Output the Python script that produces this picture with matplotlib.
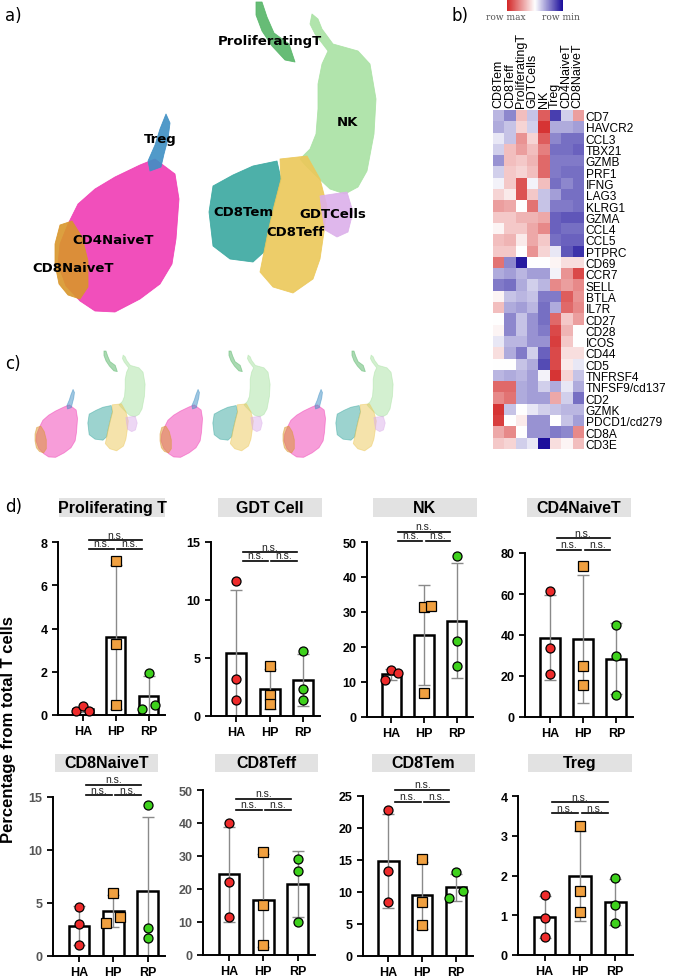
import numpy as np
import matplotlib
matplotlib.use('Agg')
import matplotlib.pyplot as plt
from matplotlib.patches import Polygon, Rectangle
from matplotlib.colors import LinearSegmentedColormap

# ---------------- data ----------------
# UMAP cluster outlines (embedding coordinates)
umap_cd4naive = [(155, 160), (175, 175), (179, 200), (176, 240), (172, 265), (160, 285), (140, 300),
                 (115, 313), (95, 312), (80, 302), (66, 287), (58, 265), (60, 245), (68, 225),
                 (78, 205), (95, 190), (115, 178), (140, 166)]
umap_cd8naive = [(60, 226), (72, 222), (82, 238), (88, 262), (88, 288), (80, 300), (68, 296),
                 (59, 285), (55, 265), (55, 245)]
umap_treg = [(166, 115), (170, 124), (168, 140), (164, 155), (161, 168), (150, 172), (148, 162),
             (155, 146), (160, 130)]
umap_prolif = [(256, 3), (262, 3), (267, 18), (274, 34), (289, 45), (295, 63), (285, 61),
               (272, 47), (262, 32), (256, 16)]
umap_nk = [(312, 15), (318, 20), (322, 30), (333, 45), (358, 52), (370, 65), (376, 100), (374, 135),
           (367, 172), (358, 188), (345, 195), (330, 190), (315, 176), (305, 166), (300, 160),
           (310, 150), (316, 135), (318, 110), (318, 85), (322, 65), (328, 52), (315, 35), (310, 25)]
umap_cd8tem = [(253, 167), (277, 162), (281, 180), (274, 207), (268, 233), (264, 253), (253, 263),
               (230, 260), (213, 247), (209, 213), (213, 187), (233, 176)]
umap_cd8teff = [(280, 160), (307, 157), (320, 180), (327, 207), (324, 233), (320, 260), (313, 280),
                (293, 294), (273, 288), (260, 273), (264, 253), (268, 233), (274, 207), (281, 180)]
umap_gdt = [(320, 197), (347, 193), (353, 213), (348, 233), (337, 238), (325, 231), (322, 213)]

umap_clusters = ['CD4NaiveT', 'CD8NaiveT', 'Treg', 'ProliferatingT', 'NK', 'CD8Tem', 'CD8Teff', 'GDTCells']
umap_outlines = [umap_cd4naive, umap_cd8naive, umap_treg, umap_prolif, umap_nk, umap_cd8tem,
                 umap_cd8teff, umap_gdt]
umap_label_pos = [(113, 240), (73, 268), (160, 140), (270, 42), (347, 122), (243, 212), (295, 233), (333, 214)]

# Heatmap
heat_cols = ['CD8Tem', 'CD8Teff', 'ProliferatingT', 'GDTCells', 'NK', 'Treg', 'CD4NaiveT', 'CD8NaiveT']
heat_genes = ['CD7', 'HAVCR2', 'CCL3', 'TBX21', 'GZMB', 'PRF1', 'IFNG', 'LAG3', 'KLRG1', 'GZMA',
              'CCL4', 'CCL5', 'PTPRC', 'CD69', 'CCR7', 'SELL', 'BTLA', 'IL7R', 'CD27', 'CD28',
              'ICOS', 'CD44', 'CD5', 'TNFRSF4', 'TNFSF9/cd137', 'CD2', 'GZMK', 'PDCD1/cd279',
              'CD8A', 'CD3E']
heat_values = [
    [-0.30, -0.50, 0.30, -0.25, 0.75, -0.80, -0.20, 0.45],
    [-0.35, -0.25, 0.20, -0.20, 0.95, -0.35, -0.35, -0.40],
    [-0.10, -0.25, 0.50, 0.20, 0.75, -0.50, -0.60, -0.60],
    [-0.20, 0.30, 0.45, 0.30, 0.60, -0.60, -0.60, -0.65],
    [-0.45, 0.30, 0.25, 0.35, 0.70, -0.55, -0.55, -0.55],
    [-0.20, 0.25, 0.20, 0.30, 0.70, -0.55, -0.60, -0.60],
    [-0.05, 0.25, 0.80, -0.05, 0.30, -0.60, -0.50, -0.60],
    [0.20, 0.10, 0.80, 0.25, -0.25, -0.40, -0.60, -0.60],
    [0.45, 0.40, 0.00, 0.65, -0.25, -0.55, -0.55, -0.60],
    [0.25, 0.25, 0.35, 0.35, 0.40, -0.65, -0.70, -0.70],
    [0.05, 0.25, 0.25, 0.40, 0.55, -0.65, -0.60, -0.60],
    [0.30, 0.35, 0.10, 0.40, 0.25, -0.60, -0.65, -0.65],
    [0.25, 0.25, 0.00, 0.50, 0.20, -0.10, -0.70, -0.85],
    [0.65, -0.50, -0.95, 0.00, 0.00, 0.05, 0.15, 0.15],
    [-0.35, -0.40, -0.30, -0.40, -0.40, -0.05, 0.50, 0.85],
    [-0.55, -0.60, -0.35, -0.20, -0.30, 0.55, 0.45, 0.55],
    [0.05, -0.25, -0.30, -0.25, -0.55, -0.55, 0.75, 0.50],
    [0.30, -0.35, -0.40, -0.30, -0.60, -0.35, 0.70, 0.55],
    [0.00, -0.50, -0.25, -0.45, -0.60, 0.70, 0.25, 0.45],
    [0.05, -0.50, -0.25, -0.45, -0.55, 0.85, 0.35, 0.00],
    [-0.10, -0.30, -0.30, -0.45, -0.45, 0.90, 0.25, 0.00],
    [0.15, -0.35, -0.55, -0.20, -0.65, 0.85, 0.15, 0.15],
    [0.00, 0.00, -0.25, -0.35, -0.75, 0.85, 0.10, -0.10],
    [-0.30, -0.35, -0.30, -0.40, -0.05, 0.95, 0.20, -0.25],
    [0.70, 0.70, -0.35, -0.40, -0.20, -0.35, -0.10, -0.35],
    [0.55, 0.65, -0.35, -0.40, -0.40, 0.40, -0.20, -0.60],
    [0.95, -0.25, 0.00, -0.10, -0.20, -0.25, -0.30, -0.30],
    [0.90, 0.00, 0.10, -0.45, -0.45, 0.00, -0.25, -0.40],
    [0.40, 0.55, 0.00, -0.45, -0.45, -0.55, -0.50, 0.55],
    [0.25, 0.20, -0.20, -0.10, -1.00, 0.15, 0.05, 0.30],
]

# Bar charts: three samples per group (HA, HP, RP)
groups = ['HA', 'HP', 'RP']
panel_titles = ['Proliferating T', 'GDT Cell', 'NK', 'CD4NaiveT', 'CD8NaiveT', 'CD8Teff', 'CD8Tem', 'Treg']
prolif_vals = [[0.2, 0.4, 0.2], [7.1, 3.3, 0.45], [1.95, 0.3, 0.45]]
gdt_vals = [[11.6, 3.2, 1.4], [4.3, 1.8, 1.0], [5.6, 2.3, 1.4]]
nk_vals = [[10.5, 13.3, 12.7], [31.3, 31.8, 6.8], [46.0, 21.8, 14.7]]
cd4naive_vals = [[61.5, 33.5, 21.0], [73.8, 25.0, 15.6], [45.0, 30.0, 10.5]]
cd8naive_vals = [[4.6, 3.0, 1.0], [5.9, 3.1, 3.7], [14.2, 2.6, 1.7]]
cd8teff_vals = [[40.0, 22.0, 11.5], [31.3, 15.3, 3.0], [29.0, 25.6, 10.0]]
cd8tem_vals = [[22.8, 13.3, 8.4], [15.1, 8.4, 4.9], [13.1, 10.2, 9.0]]
treg_vals = [[1.5, 0.92, 0.45], [3.25, 1.6, 1.08], [1.93, 1.27, 0.8]]
panel_vals = [prolif_vals, gdt_vals, nk_vals, cd4naive_vals, cd8naive_vals, cd8teff_vals, cd8tem_vals, treg_vals]
panel_ymax = [8, 15, 50, 80, 15, 50, 25, 4]
panel_ystep = [2, 5, 10, 20, 5, 10, 5, 1]

# ---------------- style ----------------
W, H = 685, 979
fig = plt.figure(figsize=(W / 100, H / 100), dpi=100)


def px_axes(x0, y0, x1, y1):
    return fig.add_axes([x0 / W, 1 - y1 / H, (x1 - x0) / W, (y1 - y0) / H])


umap_colors = ['#f03cb4', '#d9962b', '#3e8fc4', '#56b567', '#a9e2a3', '#3aa8a0', '#ecc859', '#dcb0ea']

# Panel labels
for lab, (x, y) in zip(['a)', 'b)', 'c)', 'd)'], [(5, 16), (452, 16), (5, 364), (5, 507)]):
    fig.text(x / W, 1 - y / H, lab, fontsize=12, va='center', ha='left', family='DejaVu Sans')


def draw_umap(ax, alpha, labels):
    for name, pts, col in zip(umap_clusters, umap_outlines, umap_colors):
        ax.add_patch(Polygon(pts, closed=True, facecolor=col, edgecolor=col, lw=0.6,
                             alpha=alpha, joinstyle='round'))
    if labels:
        for name, (x, y) in zip(umap_clusters, umap_label_pos):
            ax.text(x, y, name, fontsize=9.5, fontweight='bold', ha='center', va='center',
                    family='DejaVu Sans', color='black')
    ax.set_xlim(30, 385)
    ax.set_ylim(320, 0)
    ax.axis('off')


# a) main UMAP
ax_a = px_axes(30, 0, 385, 320)
draw_umap(ax_a, 0.9, True)

# c) three small UMAPs
s = 0.343
for L in [35, 160, 283]:
    axc = px_axes(L + (30 - 55) * s, 352 + (0 - 3) * s, L + (385 - 55) * s, 352 + (320 - 3) * s)
    draw_umap(axc, 0.5, False)

# b) heatmap
cmap = LinearSegmentedColormap.from_list('rb', ['#1c0f9c', '#ffffff', '#d42a2a'])
ax_h = px_axes(493, 111, 583, 450)
ax_h.imshow(np.array(heat_values), cmap=cmap, vmin=-1, vmax=1, aspect='auto', interpolation='nearest')
ax_h.set_yticks(range(len(heat_genes)))
ax_h.set_yticklabels(heat_genes, fontsize=8.6, family='Liberation Sans')
ax_h.yaxis.tick_right()
ax_h.set_xticks(range(len(heat_cols)))
ax_h.set_xticklabels(heat_cols, rotation=90, fontsize=9, family='Liberation Sans')
ax_h.xaxis.tick_top()
ax_h.tick_params(length=0, pad=2)
for sp in ax_h.spines.values():
    sp.set_visible(False)

ax_cb = px_axes(507, 1, 563, 12)
ax_cb.imshow(np.linspace(1, -1, 60)[None, :], cmap=cmap, vmin=-1, vmax=1, aspect='auto')
ax_cb.axis('off')
fig.text(506 / W, 1 - 17 / H, 'row max', fontsize=6.5, family='DejaVu Serif', color='#555555',
         ha='center', va='center')
fig.text(561 / W, 1 - 17 / H, 'row min', fontsize=6.5, family='DejaVu Serif', color='#555555',
         ha='center', va='center')

# d) bar charts
boxes = [(58, 165, 543, 716), (211, 320, 543, 717), (367, 473, 543, 718), (525, 633, 554, 718),
         (53, 165, 798, 957), (203, 315, 791, 956), (363, 473, 797, 957), (518, 633, 797, 956)]
title_boxes = [(59, 165, 499, 518), (218, 322, 499, 518), (373, 477, 499, 518), (527, 631, 499, 518),
               (55, 158, 755, 773), (215, 318, 755, 773), (372, 475, 755, 773), (528, 632, 755, 773)]
bracket_y = [(1.01, 0.96), (0.94, 0.89), (1.06, 1.005), (1.09, 1.02),
             (1.075, 1.01), (0.945, 0.88), (1.04, 0.965), (0.96, 0.89)]
tick_colors = ['k', 'k', 'k', 'k', '#555555', '#555555', 'k', 'k']
offsets = {
    (0, 0): [-0.2, 0.0, 0.2], (0, 2): [0.0, -0.2, 0.2],
    (2, 0): [-0.2, 0.0, 0.2], (2, 1): [0.0, 0.22, 0.0],
    (4, 1): [0.0, -0.2, 0.2], (6, 2): [0.0, 0.2, -0.2],
}
mstyles = [dict(marker='o', color='#ee2b2b'), dict(marker='s', color='#f0a040'),
           dict(marker='o', color='#3ed11c')]

for i, (vals, title) in enumerate(zip(panel_vals, panel_titles)):
    x0, x1, y0, y1 = boxes[i]
    ax = px_axes(x0, y0, x1, y1)
    for g, v in enumerate(vals):
        v = np.array(v)
        m = v.mean()
        sd = v.std(ddof=1)
        ax.bar(g, m, width=0.6, facecolor='white', edgecolor='black', lw=1.8, zorder=1)
        ax.errorbar(g, m, yerr=sd, color='#8a8a8a', lw=1.0, capsize=4, capthick=1.0, zorder=2)
        offs = offsets.get((i, g), [0.0, 0.0, 0.0])
        for k, val in enumerate(v):
            ax.plot(g + offs[k], val, linestyle='none', markersize=6.5, markeredgecolor='black',
                    markeredgewidth=0.9, zorder=3, clip_on=False, marker=mstyles[g]['marker'],
                    markerfacecolor=mstyles[g]['color'])
    ax.set_xlim(-0.75, 2.5)
    ax.set_ylim(0, panel_ymax[i])
    ax.set_yticks(np.arange(0, panel_ymax[i] + 0.001, panel_ystep[i]))
    ax.set_xticks(range(3))
    ax.set_xticklabels(groups)
    for sp in ['top', 'right']:
        ax.spines[sp].set_visible(False)
    for sp in ['left', 'bottom']:
        ax.spines[sp].set_linewidth(1.4)
    ax.tick_params(axis='both', width=1.3, length=4, labelsize=9, colors='black')
    ax.tick_params(axis='y', labelcolor=tick_colors[i])
    for lab in ax.get_xticklabels() + ax.get_yticklabels():
        lab.set_fontweight('bold')
        lab.set_family('Liberation Sans')
    # significance brackets
    trans = ax.get_xaxis_transform()
    ytop, ylow = bracket_y[i]
    for (bx0, bx1, by) in [(0.2, 1.8, ytop), (0.2, 0.95, ylow), (1.05, 1.8, ylow)]:
        ax.plot([bx0, bx1], [by, by], transform=trans, color='black', lw=1.2, clip_on=False)
        ax.annotate('n.s.', xy=((bx0 + bx1) / 2, by), xycoords=trans, xytext=(0, 0.5),
                    textcoords='offset points', ha='center', va='bottom', fontsize=7.5,
                    family='Liberation Sans', color='#222222')
    # title box
    tx0, tx1, ty0, ty1 = title_boxes[i]
    fig.patches.append(Rectangle((tx0 / W, 1 - ty1 / H), (tx1 - tx0) / W, (ty1 - ty0) / H,
                                 transform=fig.transFigure, facecolor='#e2e2e2', edgecolor='none',
                                 zorder=0))
    fig.text((tx0 + tx1) / 2 / W, 1 - (ty0 + ty1) / 2 / H, title, fontsize=11.5, fontweight='bold',
             family='Liberation Sans', ha='center', va='center')

fig.text(9 / W, 1 - 730 / H, 'Percentage from total T cells', rotation=90, fontsize=12,
         fontweight='bold', family='Liberation Sans', ha='center', va='center')

fig.savefig('out.png', dpi=100)
